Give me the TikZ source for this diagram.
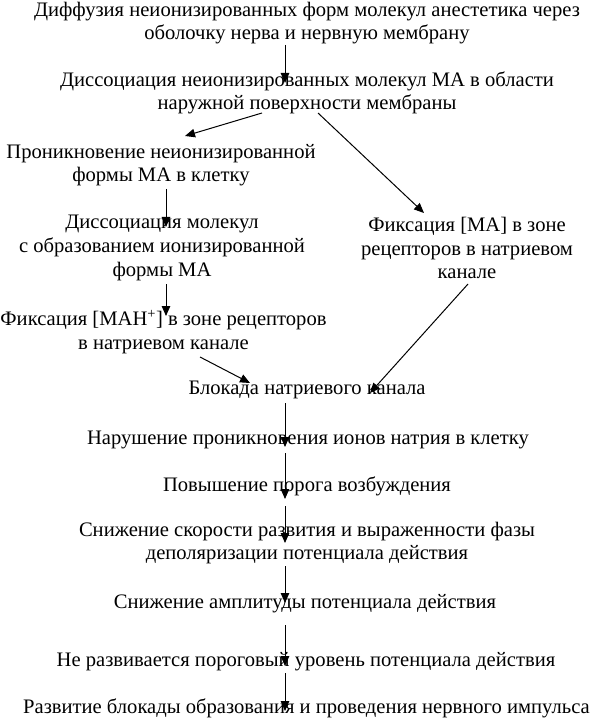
\documentclass[tikz,border=0pt]{standalone}
\usepackage{fontspec}
\setmainfont{Liberation Serif}
\usetikzlibrary{arrows.meta}
\begin{document}
\begin{tikzpicture}[x=1pt,y=-1pt,
  txt/.style={font=\fontsize{20.6}{23.6}\selectfont, align=center, inner sep=0pt},
  arr/.style={-{Triangle[length=10pt,width=8.5pt]}, line width=1pt}]
\useasboundingbox (0,0) rectangle (591,719);
\node[txt] (n1) at (307,23) {Диффузия неионизированных форм молекул анестетика через\\оболочку нерва и нервную мембрану};
\node[txt] (n2) at (307,93) {Диссоциация неионизированных молекул МА в области\\наружной поверхности мембраны};
\node[txt] (n3) at (161,165) {Проникновение неионизированной\\формы МА в клетку};
\node[txt] (n4) at (162,248) {Диссоциация молекул\\с образованием ионизированной\\формы МА};
\node[txt] (n5) at (467,248) {Фиксация [МА] в зоне\\рецепторов в натриевом\\канале};
\node[txt] (n6) at (163.5,332) {Фиксация [МАН\textsuperscript{+}] в зоне рецепторов\\в натриевом канале};
\node[txt] (n7) at (307,390) {Блокада натриевого канала};
\node[txt] (n8) at (308,440) {Нарушение проникновения ионов натрия в клетку};
\node[txt] (n9) at (307,486) {Повышение порога возбуждения};
\node[txt] (n10) at (307,543) {Снижение скорости развития и выраженности фазы\\деполяризации потенциала действия};
\node[txt] (n11) at (305,604) {Снижение амплитуды потенциала действия};
\node[txt] (n12) at (306,662) {Не развивается пороговый уровень потенциала действия};
\node[txt] (n13) at (306.5,708) {Развитие блокады образования и проведения нервного импульса};
% connector end points
\coordinate (s1) at (285,45);  \coordinate (e1) at (285,83);
\coordinate (s2) at (262,113); \coordinate (e2) at (185,136);
\coordinate (s3) at (318,113); \coordinate (e3) at (424,213);
\coordinate (s4) at (166,189); \coordinate (e4) at (166,227);
\coordinate (s5) at (166,284); \coordinate (e5) at (166,316);
\coordinate (s6) at (200,357); \coordinate (e6) at (250,383);
\coordinate (s7) at (468,284); \coordinate (e7) at (370,393);
\coordinate (s8) at (285,403); \coordinate (e8) at (285,447);
\coordinate (s9) at (285,453); \coordinate (e9) at (285,499);
\coordinate (s10) at (285,506); \coordinate (e10) at (285,543);
\coordinate (s11) at (285,566); \coordinate (e11) at (285,603);
\coordinate (s12) at (285,625); \coordinate (e12) at (285,666);
\coordinate (s13) at (285,673); \coordinate (e13) at (285,711);
\foreach \i in {1,...,13} {\draw[arr] (s\i) -- (e\i);}
\end{tikzpicture}
\end{document}
